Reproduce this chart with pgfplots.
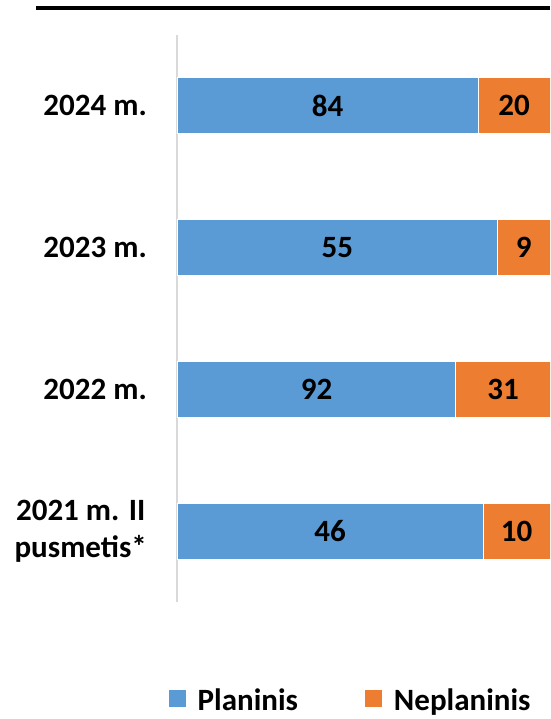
\documentclass[border=0pt]{standalone}
\usepackage{pgfplots}
\pgfplotsset{compat=1.18}
\usepackage{pgfplotstable}
\usepackage{fontspec}
\setmainfont{Carlito}
\definecolor{cblue}{HTML}{5B9BD5}
\definecolor{corange}{HTML}{ED7D31}
\definecolor{axgray}{HTML}{D9D9D9}

\pgfplotstableread{
y plan nepl planraw neplraw cplan cnepl
0 82.143 17.857 46 10 41.071 91.071
1 74.797 25.203 92 31 37.398 87.398
2 85.938 14.062 55 9 42.969 92.969
3 80.769 19.231 84 20 40.385 90.385
}\data

\begin{document}
\begin{tikzpicture}[x=1pt,y=1pt,font=\fontsize{31}{37}\selectfont\bfseries]
\useasboundingbox (0,0) rectangle (550,719);
\draw[line width=4.5pt] (36,711) -- (550,711);
\begin{axis}[
  at={(177pt,117pt)}, anchor=south west,
  scale only axis, width=373pt, height=567pt,
  xmin=0, xmax=100, ymin=-0.5, ymax=3.5,
  xbar stacked, bar width=56pt,
  axis x line=none,
  axis y line*=left,
  y axis line style={draw=axgray, line width=1.5pt, -},
  ytick={0,1,2,3},
  yticklabels={{2021 m. II\\pusmetis*},{2022 m.},{2023 m.},{2024 m.}},
  major tick length=0pt,
  ytick style={draw=none},
  yticklabel style={align=center, inner sep=0pt, xshift=-30pt, font=\fontsize{31}{37}\selectfont\bfseries},
  legend style={draw=none, at={(0.464,-0.174)}, anchor=center, legend columns=2,
    /tikz/every even column/.append style={column sep=64pt},
    font=\fontsize{31}{37}\selectfont\bfseries, inner sep=0pt},
  legend image code/.code={\fill[#1] (0pt,-7pt) rectangle (18pt,11pt); \path (27pt,0pt);},
]
\addplot[fill=cblue, draw=white, line width=1pt] table[x=plan, y=y] {\data};
\addlegendentry{Planinis}
\addplot[fill=corange, draw=white, line width=1pt] table[x=nepl, y=y] {\data};
\addlegendentry{Neplaninis}
\end{axis}
\begin{axis}[
  at={(177pt,117pt)}, anchor=south west,
  scale only axis, width=373pt, height=567pt,
  xmin=0, xmax=100, ymin=-0.5, ymax=3.5,
  hide axis,
  nodes near coords, point meta=explicit symbolic,
  every node near coord/.style={anchor=center, font=\fontsize{31}{37}\selectfont\bfseries, text=black},
]
\addplot[draw=none, mark=none] table[x=cplan, y=y, meta=planraw] {\data};
\addplot[draw=none, mark=none] table[x=cnepl, y=y, meta=neplraw] {\data};
\end{axis}
\end{tikzpicture}
\end{document}
